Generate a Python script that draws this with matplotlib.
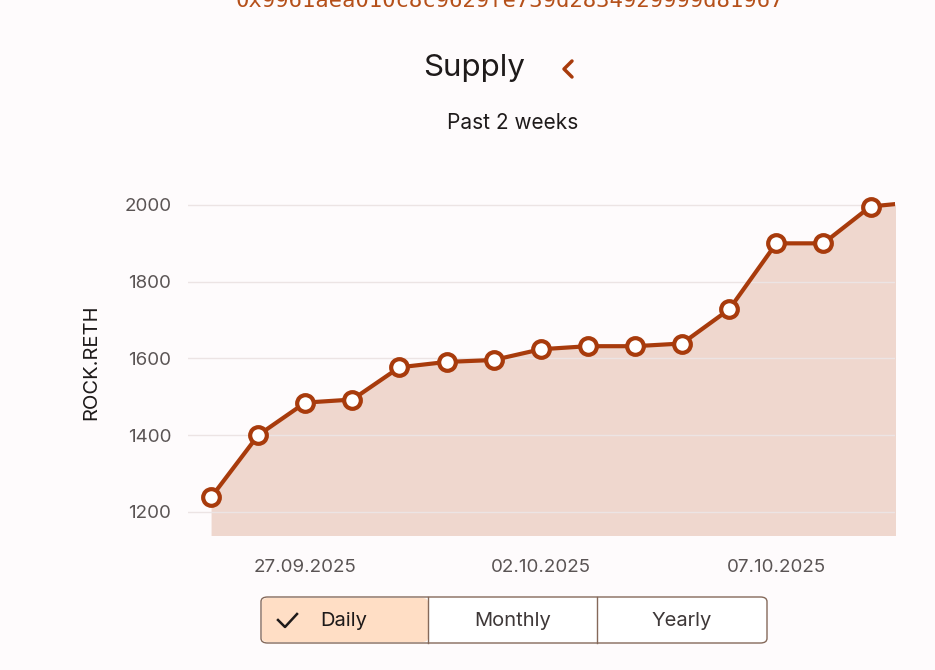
import matplotlib.pyplot as plt
from matplotlib.patches import FancyBboxPatch
from matplotlib.lines import Line2D

# data
dates = ["25.09.2025", "26.09.2025", "27.09.2025", "28.09.2025", "29.09.2025",
         "30.09.2025", "01.10.2025", "02.10.2025", "03.10.2025", "04.10.2025",
         "05.10.2025", "06.10.2025", "07.10.2025", "08.10.2025", "09.10.2025",
         "10.10.2025"]
supply = [1238, 1400, 1485, 1493, 1577, 1591, 1596, 1624, 1632, 1632,
          1639, 1728, 1900, 1900, 1996, 2008]
tick_labels = ["27.09.2025", "02.10.2025", "07.10.2025"]
yticks = [1200, 1400, 1600, 1800, 2000]
buttons = ["Daily", "Monthly", "Yearly"]

LINE = "#A83B0C"
FILL = "#EFD7CE"
BG = "#FEFBFC"
GRID = "#ECE4E4"
TXT = "#5A5454"
DARK = "#1E1A1A"

plt.rcParams["font.family"] = ["Inter", "DejaVu Sans"]

W, H = 935, 670
fig = plt.figure(figsize=(W / 100, H / 100), dpi=100)
fig.patch.set_facecolor(BG)


def fx(px):
    return px / W


def fy(py):
    return 1 - py / H


ax = fig.add_axes([fx(188), fy(535), fx(895) - fx(188), fy(190) - fy(535)])
ax.set_facecolor(BG)
x = list(range(len(supply)))
ax.fill_between(x, supply, 1000, color=FILL, lw=0, zorder=1)
ax.plot(x, supply, color=LINE, lw=3, marker="o", ms=12, mfc="white",
        mec=LINE, mew=3, zorder=3, clip_on=True)
ax.set_xlim(-0.49, 14.52)
ax.set_ylim(1140, 2039)
ax.set_yticks(yticks)
ax.set_yticklabels([str(v) for v in yticks])
ax.grid(axis="y", color=GRID, lw=1, zorder=2)
ax.set_axisbelow(False)
for s in ax.spines.values():
    s.set_visible(False)
ax.tick_params(axis="y", length=0, pad=12, labelsize=13.5, labelcolor=TXT)
ax.tick_params(axis="x", length=0, pad=17, labelsize=13.5, labelcolor=TXT)
ax.set_xticks([dates.index(t) for t in tick_labels])
ax.set_xticklabels(tick_labels)
ax.set_ylabel("ROCK.RETH", fontsize=14.5, color=DARK, labelpad=17)

# header (address line is cut off at the top, as in the screenshot)
fig.text(fx(510), fy(1), "0x9961aea010c8c9629fe739d2834929999d81967",
         ha="center", va="center", fontsize=16, color="#B5501A",
         family="DejaVu Sans Mono")
fig.text(fx(474), fy(68), "Supply", ha="center", va="center", fontsize=22.5,
         color=DARK)
fig.add_artist(Line2D([fx(572), fx(564), fx(572)], [fy(61), fy(69), fy(77)],
                      color=LINE, lw=2.5, solid_capstyle="round",
                      solid_joinstyle="round"))
fig.text(fx(513), fy(123), "Past 2 weeks", ha="center", va="center",
         fontsize=15, color=DARK)

# period buttons
edges = [261, 428, 597, 767]
box = FancyBboxPatch((fx(261), fy(643)), fx(767) - fx(261), fy(597) - fy(643),
                     boxstyle="round,pad=0,rounding_size=0.007",
                     transform=fig.transFigure, fc="white", ec="#85695A", lw=1)
fig.add_artist(box)
sel = FancyBboxPatch((fx(262), fy(642)), fx(428) - fx(262), fy(598) - fy(642),
                     boxstyle="round,pad=0,rounding_size=0.006",
                     transform=fig.transFigure, fc="#FFDEC5", ec="none")
fig.add_artist(sel)
for e in edges[1:-1]:
    fig.add_artist(Line2D([fx(e), fx(e)], [fy(597), fy(643)],
                          color="#85695A", lw=1))
for i, name in enumerate(buttons):
    cx = (edges[i] + edges[i + 1]) / 2
    if i == 0:
        cx = 344
    fig.text(fx(cx), fy(621), name, ha="center", va="center", fontsize=14.5,
             color=DARK if i == 0 else "#3E3838")
fig.add_artist(Line2D([fx(278), fx(285), fx(297)], [fy(620), fy(627), fy(614)],
                      color=DARK, lw=1.8))

fig.savefig("out.png", dpi=100, facecolor=BG)
